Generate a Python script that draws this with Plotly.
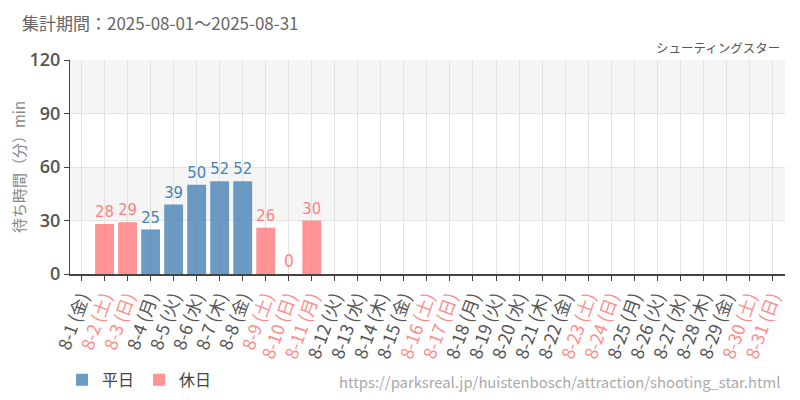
import plotly.graph_objects as go

days = [f"8-{d}" for d in range(1, 32)]
weekdays = ["金", "土", "日", "月", "火", "水", "木"] * 5
weekdays = weekdays[:31]
holiday_days = ["8-2", "8-3", "8-9", "8-10", "8-11", "8-16", "8-17", "8-23", "8-24", "8-30", "8-31"]
wait_values = [None, 28, 29, 25, 39, 50, 52, 52, 26, 0, 30] + [None] * 20
y_ticks = [0, 30, 60, 90, 120]

BLUE = "rgba(70,130,180,0.8)"
PINK = "rgba(255,120,122,0.8)"
BLUE_TXT = "#4682b4"
PINK_TXT = "#ff7f7f"
NARROW = "DejaVu Sans Condensed, Liberation Sans Narrow, Roboto"

weekday_vals = [v if d not in holiday_days else None for d, v in zip(days, wait_values)]
holiday_vals = [v if d in holiday_days else None for d, v in zip(days, wait_values)]

tick_text = []
for d, w in zip(days, weekdays):
    col = "#ff8c8c" if d in holiday_days else "#555555"
    tick_text.append(f"<span style='color:{col}'>{d} ({w})</span>")

fig = go.Figure()
fig.add_trace(go.Bar(
    x=days, y=weekday_vals, name="平日", width=0.82,
    marker=dict(color=BLUE, line=dict(width=0)),
    text=[("" if v is None else str(v)) for v in weekday_vals],
    textposition="outside", cliponaxis=False,
    textfont=dict(color=BLUE_TXT, size=17, family=NARROW),
))
fig.add_trace(go.Bar(
    x=days, y=holiday_vals, name="休日", width=0.82,
    marker=dict(color=PINK, line=dict(width=0)),
    text=[("" if v is None else str(v)) for v in holiday_vals],
    textposition="outside", cliponaxis=False,
    textfont=dict(color=PINK_TXT, size=17, family=NARROW),
))

shapes = []
for lo, hi in [(30, 60), (90, 120)]:
    shapes.append(dict(type="rect", xref="paper", yref="y", x0=0, x1=1, y0=lo, y1=hi,
                       fillcolor="#f5f5f5", line=dict(width=0), layer="below"))

# page body has an 8px margin: offset the figure's inner layout to compensate
PW, PH = 715, 214.5
fig.update_layout(
    width=800, height=400,
    margin=dict(l=62, r=23, t=52, b=133.5, autoexpand=False),
    paper_bgcolor="white", plot_bgcolor="white",
    barmode="overlay",
    shapes=shapes,
    font=dict(family="Noto Sans CJK JP", color="#555555"),
    showlegend=True,
    legend=dict(orientation="h", x=-8/PW, xanchor="left", y=-106/PH, yanchor="middle",
                font=dict(size=16, color="#444444"), itemwidth=30, tracegroupgap=0),
    xaxis=dict(
        tickmode="array", tickvals=days, ticktext=tick_text, tickangle=-70,
        tickfont=dict(size=17.5, family="Noto Sans CJK JP"),
        showline=True, linecolor="#444444", linewidth=1.5,
        ticks="outside", ticklen=5, tickcolor="#444444",
        showgrid=True, gridcolor="#e3e3e3", gridwidth=1,
        range=[-0.5, 30.55], fixedrange=True, automargin=False,
    ),
    yaxis=dict(
        range=[0, 120], tickvals=y_ticks,
        tickfont=dict(size=18, color="#555555", family="Open Sans", weight=600),
        showline=True, linecolor="#444444", linewidth=1,
        ticks="outside", ticklen=5, tickcolor="#444444",
        showgrid=True, gridcolor="#e3e3e3", gridwidth=1,
        zeroline=False, automargin=False,
        title=dict(text="待ち時間（分）min", font=dict(size=15, color="#888888"), standoff=10),
    ),
    annotations=[
        dict(text="集計期間：2025-08-01～2025-08-31", xref="paper", yref="paper",
             x=-50/PW, y=1 + 38/PH, xanchor="left", yanchor="middle", showarrow=False,
             font=dict(size=17, color="#666666")),
        dict(text="シューティングスター", xref="paper", yref="paper",
             x=1 - 3/PW, y=1 + 13/PH, xanchor="right", yanchor="middle", showarrow=False,
             font=dict(size=12.5, color="#555555")),
        dict(text="https://parksreal.jp/huistenbosch/attraction/shooting_star.html",
             xref="paper", yref="paper", x=1 - 3/PW, y=-108/PH, xanchor="right", yanchor="middle",
             showarrow=False, font=dict(size=14.8, color="#aaaaaa")),
    ],
)

fig.write_html("out.html")
